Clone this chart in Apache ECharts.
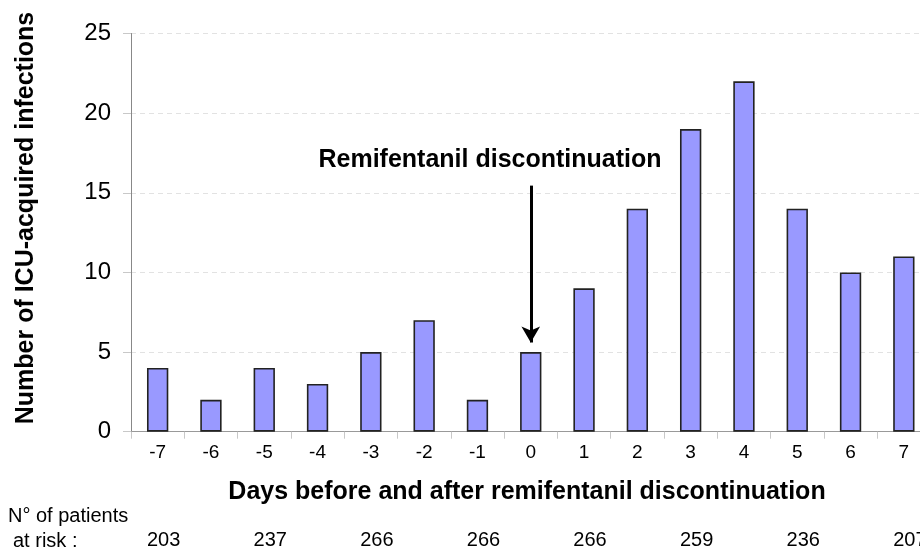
<!DOCTYPE html>
<html>
<head>
<meta charset="utf-8">
<script src="https://cdn.jsdelivr.net/npm/echarts@6/dist/echarts.min.js"></script>
<style>html,body{margin:0;padding:0;background:#fff;}#c{width:920px;height:550px;}</style>
</head>
<body>
<div id="c"></div>
<script>
var days = ['-7','-6','-5','-4','-3','-2','-1','0','1','2','3','4','5','6','7'];
var infections = [4, 2, 4, 3, 5, 7, 2, 5, 9, 14, 19, 22, 14, 10, 11];
var atRiskDays = ['-7','-5','-3','-1','1','3','5','7'];
var atRisk = [203, 237, 266, 266, 266, 259, 236, 207];
var yTicks = [0, 5, 10, 15, 20, 25];

var FONT = '"Liberation Sans", Arial, sans-serif';
var chart = echarts.init(document.getElementById('c'));
chart.setOption({
  animation: false,
  backgroundColor: '#fff',
  grid: { left: 131, width: 799.5, top: 33.5, height: 398.2, containLabel: false, outerBoundsMode: 'none' },
  xAxis: [{
    type: 'category',
    data: days,
    boundaryGap: true,
    axisLine: { lineStyle: { color: '#999', width: 1 } },
    axisTick: { show: true, length: 7, lineStyle: { color: '#c8c8c8' } },
    axisLabel: { color: '#000', fontFamily: FONT, fontSize: 19, margin: 12, interval: 0 },
    splitLine: { show: false }
  }, {
    type: 'category',
    data: days,
    position: 'bottom',
    boundaryGap: true,
    axisLine: { show: false },
    axisTick: { show: false },
    axisLabel: {
      color: '#000', fontFamily: FONT, fontSize: 20, margin: 99, interval: 0,
      padding: [0, 0, 0, 12],
      formatter: function (v) { var i = atRiskDays.indexOf(v); return i >= 0 ? String(atRisk[i]) : ''; }
    },
    splitLine: { show: false }
  }],
  yAxis: {
    type: 'value',
    min: yTicks[0], max: yTicks[yTicks.length - 1], interval: 5,
    axisLine: { show: true, lineStyle: { color: '#888', width: 1 } },
    axisTick: { show: true, length: 8, lineStyle: { color: '#c8c8c8' } },
    axisLabel: { color: '#000', fontFamily: FONT, fontSize: 24, margin: 20 },
    splitLine: { show: true, lineStyle: { color: '#e2e2e2', type: [5, 4], width: 1 } }
  },
  series: [{
    type: 'bar',
    data: infections,
    barWidth: '40%',
    itemStyle: { color: '#9999ff', borderColor: '#222', borderWidth: 1.6 },
    markLine: {
      silent: true,
      symbol: ['none', 'arrow'],
      symbolSize: [14, 16],
      label: { show: false },
      lineStyle: { color: '#000', width: 3, type: 'solid' },
      data: [[{ coord: ['0', 15.45] }, { coord: ['0', 5.6] }]]
    }
  }],
  graphic: [
    { type: 'text', x: 490, y: 160, style: { text: 'Remifentanil discontinuation', fill: '#000', font: 'bold 25px ' + FONT, textAlign: 'center', textVerticalAlign: 'middle' } },
    { type: 'text', x: 527, y: 492, style: { text: 'Days before and after remifentanil discontinuation', fill: '#000', font: 'bold 25px ' + FONT, textAlign: 'center', textVerticalAlign: 'middle' } },
    { type: 'text', x: 26, y: 218, rotation: Math.PI / 2, style: { text: 'Number of ICU-acquired infections', fill: '#000', font: 'bold 25px ' + FONT, textAlign: 'center', textVerticalAlign: 'middle' } },
    { type: 'text', x: 8, y: 516, style: { text: 'N° of patients', fill: '#000', font: '20px ' + FONT, textAlign: 'left', textVerticalAlign: 'middle' } },
    { type: 'text', x: 13, y: 541, style: { text: 'at risk :', fill: '#000', font: '20px ' + FONT, textAlign: 'left', textVerticalAlign: 'middle' } }
  ]
});
</script>
</body>
</html>
